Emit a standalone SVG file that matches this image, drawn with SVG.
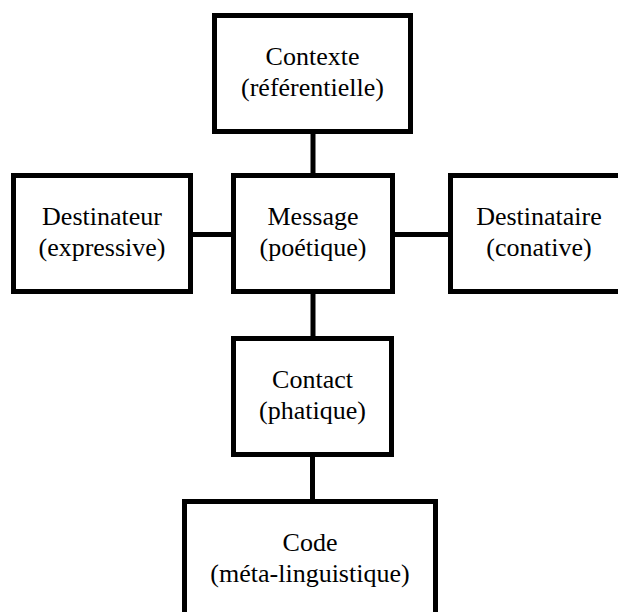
<svg xmlns="http://www.w3.org/2000/svg" width="618" height="612" viewBox="0 0 618 612">
<style>
.box{fill:#fff;stroke:#000;stroke-width:5}
.link{stroke:#000;stroke-width:5;fill:none}
.t{font-family:'Liberation Serif','Tinos','Times New Roman','DejaVu Serif',serif;font-size:26px;fill:#000;text-anchor:middle}
</style>
<rect width="618" height="612" fill="#fff"/>
<g id="connectors">
<line class="link" x1="313" y1="132" x2="313" y2="176"/>
<line class="link" x1="191" y1="234.5" x2="234" y2="234.5"/>
<line class="link" x1="392" y1="234.5" x2="451" y2="234.5"/>
<line class="link" x1="313" y1="292" x2="313" y2="339"/>
<line class="link" x1="312.5" y1="455" x2="312.5" y2="502"/>
</g>
<g id="contexte">
<rect class="box" x="214.5" y="15.5" width="196" height="116"/>
<text class="t" x="312.5" y="65">Contexte</text>
<text class="t" x="312.5" y="96">(référentielle)</text>
</g>
<g id="destinateur">
<rect class="box" x="13.5" y="175.5" width="177" height="116"/>
<text class="t" x="102" y="225">Destinateur</text>
<text class="t" x="102" y="256">(expressive)</text>
</g>
<g id="message">
<rect class="box" x="233.5" y="175.5" width="159" height="116"/>
<text class="t" x="313" y="225">Message</text>
<text class="t" x="313" y="256">(poétique)</text>
</g>
<g id="destinataire">
<rect class="box" x="450.5" y="175.5" width="180" height="116"/>
<text class="t" x="539" y="225">Destinataire</text>
<text class="t" x="539" y="256">(conative)</text>
</g>
<g id="contact">
<rect class="box" x="233.5" y="338.5" width="158" height="116"/>
<text class="t" x="312.5" y="388">Contact</text>
<text class="t" x="312.5" y="419">(phatique)</text>
</g>
<g id="code">
<rect class="box" x="184.5" y="501.5" width="251" height="116"/>
<text class="t" x="310" y="551">Code</text>
<text class="t" x="310" y="582">(méta-linguistique)</text>
</g>
</svg>
